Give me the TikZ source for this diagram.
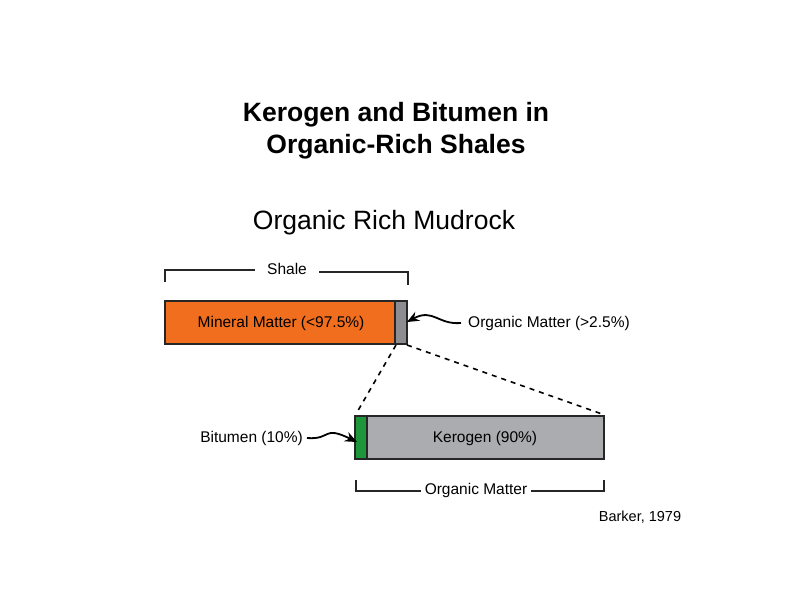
\documentclass[tikz,border=0pt]{standalone}
\usepackage{fontspec}
\setmainfont{Liberation Sans}
\usetikzlibrary{arrows.meta}
\definecolor{mineralorange}{RGB}{240,110,30}
\definecolor{organicgray}{RGB}{140,140,145}
\definecolor{kerogengray}{RGB}{170,172,175}
\definecolor{bitumengreen}{RGB}{30,150,60}
\tikzset{
  % bars
  bar/.style={draw=black!85, line width=1.8pt},
  % labels
  lab/.style={font=\fontsize{15.5}{18}\selectfont, inner sep=1pt},
  % bracket lines
  brk/.style={line width=1.8pt, black!85},
  % wavy arrow
  wavy/.style={-{Stealth[length=12pt,width=10pt]}, line width=1.8pt},
}
\begin{document}
\begin{tikzpicture}[x=1pt, y=-1pt]
  \useasboundingbox (0,0) rectangle (792,612);

  % Titles
  \node[font=\bfseries\fontsize{26.5}{32}\selectfont, align=center] (title) at (396,131)
    {Kerogen and Bitumen in\\Organic-Rich Shales};
  \node[font=\fontsize{26.5}{30}\selectfont] (sub) at (384,223) {Organic Rich Mudrock};

  % Upper bar
  \draw[bar, fill=mineralorange] (165,301) rectangle (395,344);
  \draw[bar, fill=organicgray] (395,301) rectangle (407,344);
  \node[lab] (mineral) at (281,323) {Mineral Matter (<97.5\%)};
  \coordinate (om) at (407,322);
  \node[lab, anchor=west, inner xsep=7pt] (omlab) at (461,323) {Organic Matter (>2.5\%)};

  % Shale bracket
  \node[lab, inner xsep=12pt] (shale) at (287,269) {Shale};
  \draw[brk] (165,282) -- (165,270) -- (shale.west |- 0,270);
  \draw[brk] (shale.east |- 0,272) -- (408,272) -- (408,285);

  % Dashed zoom lines
  \coordinate (zl) at (396,345);
  \coordinate (zr) at (407,345);

  % Lower bar
  \draw[bar, fill=bitumengreen] (355,416) rectangle (367,459);
  \draw[bar, fill=kerogengray] (367,416) rectangle (604,459);
  \node[lab] (kerogen) at (485,438) {Kerogen (90\%)};
  \coordinate (bit) at (357,442);
  \node[lab, anchor=east, inner xsep=4pt] (bitlab) at (307,438) {Bitumen (10\%)};
  \draw[line width=1.6pt, dash pattern=on 5pt off 5pt] (zl) -- (356,414);
  \draw[line width=1.6pt, dash pattern=on 5pt off 5pt] (zr) -- (602,414);

  % Organic Matter bracket
  \node[lab, inner xsep=4pt] (orgm) at (476,490) {Organic Matter};
  \draw[brk] (356,480) -- (356,491) -- (orgm.west |- 0,491);
  \draw[brk] (orgm.east |- 0,491) -- (604,491) -- (604,480);

  % Wavy arrows
  \draw[wavy] (omlab.west) .. controls (438,325) and (433,308) .. (om);
  \draw[wavy] (bitlab.east) .. controls (332,440) and (322,425) .. (bit);

  % Source
  \node[lab, font=\fontsize{14.5}{17}\selectfont] (src) at (640,517) {Barker, 1979};
\end{tikzpicture}
\end{document}
